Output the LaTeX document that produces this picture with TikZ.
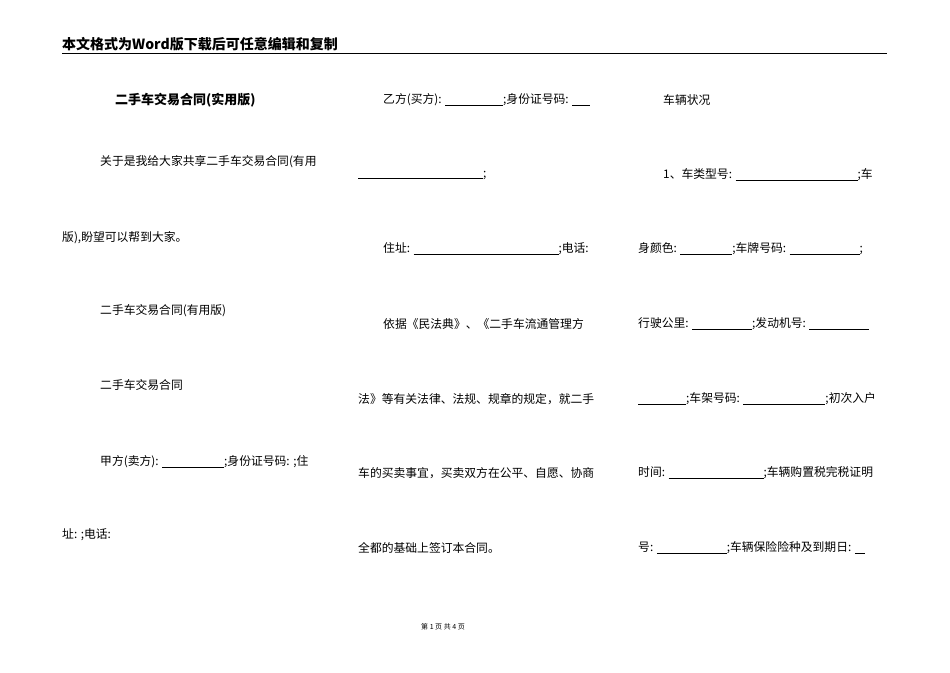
\documentclass[tikz,border=0pt]{standalone}
\usepackage{fontspec}
\setmainfont{Noto Sans CJK SC}
\newcommand{\ul}[1]{\rule[-1.5pt]{#1pt}{0.5pt}}
\begin{document}
\begin{tikzpicture}[x=1pt,y=-1pt,
  txt/.style={anchor=west,inner sep=0pt,font=\fontsize{11.8}{13}\selectfont}]
\useasboundingbox[fill=white] (0,0) rectangle (950,672);
\node[txt,font=\fontsize{14}{16}\selectfont\bfseries] (hd) at (62,44) {本文格式为Word版下载后可任意编辑和复制};
\draw[line width=0.8pt] (62,53) -- (887,53);
\node[txt,font=\fontsize{13}{15}\selectfont\bfseries] (t) at (115,100) {二手车交易合同(实用版)};
\node[txt] (a1) at (100,162) {关于是我给大家共享二手车交易合同(有用};
\node[txt] (a2) at (62,238) {版),盼望可以帮到大家。};
\node[txt] (a3) at (100,311) {二手车交易合同(有用版)};
\node[txt] (a4) at (100,385) {二手车交易合同};
\node[txt] (a5) at (100,462) {甲方(卖方): \ul{62};身份证号码: ;住};
\node[txt] (a6) at (62,535) {址: ;电话:};
\node[txt] (b1) at (383,100) {乙方(买方): \ul{58};身份证号码: \ul{18}};
\node[txt] (b2) at (358,175) {\ul{125};};
\node[txt] (b3) at (383,249) {住址: \ul{145};电话:};
\node[txt] (b4) at (383,324) {依据《民法典》、《二手车流通管理方};
\node[txt] (b5) at (358,399) {法》等有关法律、法规、规章的规定，就二手};
\node[txt] (b6) at (358,473) {车的买卖事宜，买卖双方在公平、自愿、协商};
\node[txt] (b7) at (358,548) {全都的基础上签订本合同。};
\node[txt] (c1) at (663,100) {车辆状况};
\node[txt] (c2) at (663,175) {1、车类型号: \ul{122};车};
\node[txt] (c3) at (638,249) {身颜色: \ul{52};车牌号码: \ul{70};};
\node[txt] (c4) at (638,324) {行驶公里: \ul{60};发动机号: \ul{60}};
\node[txt] (c5) at (638,399) {\ul{48};车架号码: \ul{82};初次入户};
\node[txt] (c6) at (638,473) {时间: \ul{95};车辆购置税完税证明};
\node[txt] (c7) at (638,548) {号: \ul{70};车辆保险险种及到期日: \ul{10}};
\node[font=\fontsize{7}{8}\selectfont,inner sep=0pt] (ft) at (443,627) {第 1 页 共 4 页};
\end{tikzpicture}
\end{document}
